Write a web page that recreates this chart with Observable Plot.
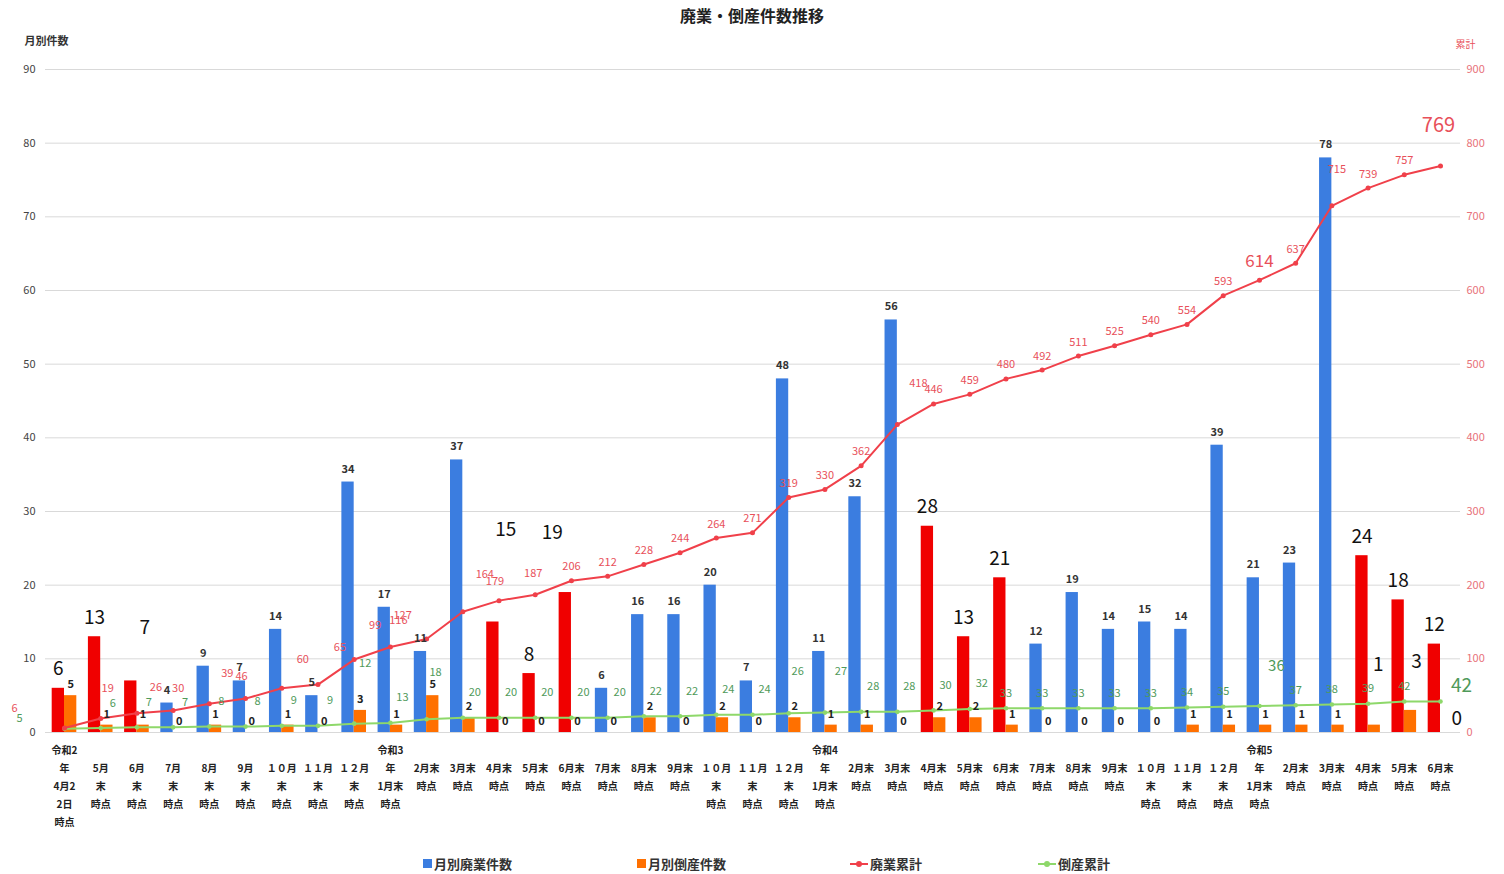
<!DOCTYPE html>
<html>
<head>
<meta charset="utf-8">
<script src="https://cdn.jsdelivr.net/npm/d3@7"></script>
<script src="https://cdn.jsdelivr.net/npm/@observablehq/plot@0.6"></script>
<style>
  body { margin: 0; background: #fff; font-family: "Noto Sans CJK JP", "Noto Sans", sans-serif; width: 1504px; }
  #title { height: 30px; line-height: 30px; text-align: center; font-weight: bold; font-size: 16px; color: #222; }
  #legend { position: relative; height: 29px; font-size: 13px; font-weight: bold; color: #333; }
  .item { position: absolute; top: 9px; display: flex; align-items: center; white-space: nowrap; }
  .sq { width: 9px; height: 9px; display: inline-block; margin-right: 2px; }
  .ln { width: 18px; height: 10px; display: inline-block; position: relative; margin-right: 2px; }
  .ln::before { content: ""; position: absolute; left: 0; right: 0; top: 4px; height: 2px; background: var(--c); }
  .ln::after { content: ""; position: absolute; left: 6px; top: 2px; width: 6px; height: 6px; border-radius: 3px; background: var(--c); }
</style>
</head>
<body>
<div id="title">廃業・倒産件数推移</div>
<div id="chart"></div>
<div id="legend">
  <span class="item" style="left:423px"><span class="sq" style="background:#3b7de0"></span>月別廃業件数</span>
  <span class="item" style="left:637px"><span class="sq" style="background:#ff7000"></span>月別倒産件数</span>
  <span class="item" style="left:850px"><span class="ln" style="--c:#f0404a"></span>廃業累計</span>
  <span class="item" style="left:1038px"><span class="ln" style="--c:#8ed86a"></span>倒産累計</span>
</div>
<script>
const categories = [
  "令和2\n年\n4月2\n2日\n時点",
  "5月\n末\n時点", "6月\n末\n時点", "7月\n末\n時点", "8月\n末\n時点", "9月\n末\n時点",
  "１０月\n末\n時点", "１１月\n末\n時点", "１２月\n末\n時点",
  "令和3\n年\n1月末\n時点",
  "2月末\n時点", "3月末\n時点", "4月末\n時点", "5月末\n時点", "6月末\n時点", "7月末\n時点", "8月末\n時点", "9月末\n時点",
  "１０月\n末\n時点", "１１月\n末\n時点", "１２月\n末\n時点",
  "令和4\n年\n1月末\n時点",
  "2月末\n時点", "3月末\n時点", "4月末\n時点", "5月末\n時点", "6月末\n時点", "7月末\n時点", "8月末\n時点", "9月末\n時点",
  "１０月\n末\n時点", "１１月\n末\n時点", "１２月\n末\n時点",
  "令和5\n年\n1月末\n時点",
  "2月末\n時点", "3月末\n時点", "4月末\n時点", "5月末\n時点", "6月末\n時点"
];
const haigyo = [6,13,7,4,9,7,14,5,34,17,11,37,15,8,19,6,16,16,20,7,48,11,32,56,28,13,21,12,19,14,15,14,39,21,23,78,24,18,12];
const tosan = [5,1,1,0,1,0,1,0,3,1,5,2,0,0,0,0,2,0,2,0,2,1,1,0,2,2,1,0,0,0,0,1,1,1,1,1,1,3,0];
const haigyoCum = [6,19,26,30,39,46,60,65,99,116,127,164,179,187,206,212,228,244,264,271,319,330,362,418,446,459,480,492,511,525,540,554,593,614,637,715,739,757,769];
const tosanCum = [5,6,7,7,8,8,9,9,12,13,18,20,20,20,20,20,22,22,24,24,26,27,28,28,30,32,33,33,33,33,33,34,35,36,37,38,39,42,42];
const highlighted = [0,1,2,12,13,14,24,25,26,36,37,38];
const leftTicks = [0,10,20,30,40,50,60,70,80,90];

// label nudges (text offsets in px, styling only)
const hlNudge = {2: [14, -53], 12: [13, -92], 14: [-13, -60]};
const tosanBigNudge = {36: [4, -60], 37: [6, -48], 38: [10, -14]};
const hcNudge = {0: [-50, -20], 1: [7, -30], 2: [19, -26], 3: [5, -22], 4: [18, -30], 5: [-4, -22],
  6: [21, -29], 7: [22, -37], 8: [21, -34], 9: [8, -27], 10: [-24, -23], 11: [22, -37], 12: [-4, -19],
  13: [-2, -21], 23: [21, -41], 33: [0, -19], 35: [5, -36], 38: [-2, -40]};
const tcNudge = {0: [-45, -10], 8: [11, -60], 10: [9, -47], 20: [9, -42], 21: [16, -41], 33: [17, -40], 38: [21, -16]};
const bigFont = {hc: {33: 17, 38: 20}, tc: {33: 15, 38: 19}};

const BLUE = "#3b7de0", RED = "#f00000", ORANGE = "#ff7000", REDLINE = "#f0404a", GREEN = "#8ed86a";

const rows = categories.map((label, i) => ({
  i, label: label.startsWith("令和") ? label : "\n" + label,
  haigyo: haigyo[i], tosan: tosan[i], hc: haigyoCum[i], tc: tosanCum[i],
  hl: highlighted.includes(i)
}));
const n = rows.length;

const marks = [
  Plot.ruleY(leftTicks, {stroke: "#d9d9d9", strokeWidth: 1}),
  Plot.axisY(leftTicks, {anchor: "left", tickSize: 0, tickPadding: 10, fontSize: 11, color: "#444", label: null}),
  Plot.axisY(leftTicks, {anchor: "right", tickSize: 0, tickPadding: 6, fontSize: 11, color: "#e8727a", label: null, tickFormat: d => d * 10, textAnchor: "start"}),
  Plot.text(["月別件数"], {frameAnchor: "top-left", dx: -21, dy: -32, textAnchor: "start", fontSize: 11, fontWeight: "bold", fill: "#333"}),
  Plot.text(["累計"], {frameAnchor: "top-right", dx: -5, dy: -29, textAnchor: "start", fontSize: 10, fill: "#e8505a"}),
  Plot.rect(rows, {x1: d => d.i - 0.34, x2: d => d.i, y1: 0, y2: "haigyo", fill: d => d.hl ? RED : BLUE}),
  Plot.rect(rows, {x1: d => d.i, x2: d => d.i + 0.34, y1: 0, y2: "tosan", fill: ORANGE}),
  Plot.line(rows, {x: "i", y: d => d.tc / 10, stroke: GREEN, strokeWidth: 2}),
  Plot.dot(rows, {x: "i", y: d => d.tc / 10, r: 2.3, fill: GREEN}),
  Plot.line(rows, {x: "i", y: d => d.hc / 10, stroke: REDLINE, strokeWidth: 2}),
  Plot.dot(rows, {x: "i", y: d => d.hc / 10, r: 2.5, fill: REDLINE}),
  Plot.text(rows.filter(d => !d.hl), {x: d => d.i - 0.17, y: "haigyo", text: "haigyo", dy: -13, fontSize: 11, fontWeight: "bold", fill: "#333"}),
  Plot.text(rows.filter(d => !(d.i in tosanBigNudge)), {x: d => d.i + 0.17, y: "tosan", text: "tosan", dy: -11, fontSize: 11, fontWeight: "bold", fill: "#222"}),
  Plot.text(rows, {x: "i", frameAnchor: "bottom", text: "label", lineAnchor: "top", dy: 9, lineHeight: 1.8, fontSize: 10, fontWeight: "bold", fill: "#222"})
];
for (const d of rows.filter(d => d.hl)) {
  const [dx, dy] = hlNudge[d.i] || [0, -19];
  marks.push(Plot.text([d], {x: d => d.i - 0.17, y: "haigyo", text: "haigyo", dx, dy, fontSize: 19, fill: "#111"}));
}
for (const d of rows.filter(d => d.i in tosanBigNudge)) {
  const [dx, dy] = tosanBigNudge[d.i];
  marks.push(Plot.text([d], {x: d => d.i + 0.17, y: "tosan", text: "tosan", dx, dy, fontSize: 19, fill: "#111"}));
}
for (const d of rows) {
  const [dx, dy] = hcNudge[d.i] || [0, -14];
  marks.push(Plot.text([d], {x: "i", y: d => d.hc / 10, text: "hc", dx, dy, fontSize: bigFont.hc[d.i] || 11, fill: "#e8505a"}));
}
for (const d of rows) {
  const [dx, dy] = tcNudge[d.i] || (d.i >= 26 ? [0, -15] : [12, -25]);
  marks.push(Plot.text([d], {x: "i", y: d => d.tc / 10, text: "tc", dx, dy, fontSize: bigFont.tc[d.i] || 11, fill: "#4f9a5a"}));
}

const chart = Plot.plot({
  width: 1504, height: 815,
  marginLeft: 45, marginRight: 44, marginTop: 39, marginBottom: 113,
  x: {domain: [0, n - 1], range: [64, 1440], axis: null},
  y: {domain: [0, 90], axis: null},
  color: {type: "identity"},
  style: {fontFamily: "'Noto Sans CJK JP', 'Noto Sans', sans-serif", background: "#fff", overflow: "visible"},
  marks
});
document.getElementById("chart").appendChild(chart);
</script>
</body>
</html>
